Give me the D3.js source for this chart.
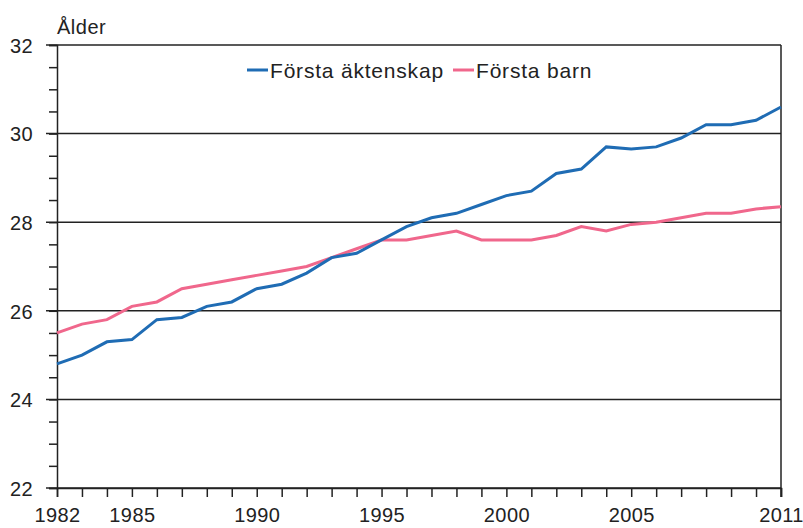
<!DOCTYPE html>
<html>
<head>
<meta charset="utf-8">
<script src="https://cdn.jsdelivr.net/npm/d3@7"></script>
<style>
  body { margin: 0; background: #fff; }
  svg { font-family: 'Liberation Sans', Arial, sans-serif; }
  .tick text { font-size: 20px; fill: #222; letter-spacing: 0.4px; }
</style>
</head>
<body>
<div class="chart"></div>
<script>
const width = 803;
const height = 528;

const years = d3.range(1982, 2012);
const marriage = [24.8, 25.0, 25.3, 25.35, 25.8, 25.85, 26.1, 26.2, 26.5, 26.6,
  26.85, 27.2, 27.3, 27.6, 27.9, 28.1, 28.2, 28.4, 28.6, 28.7,
  29.1, 29.2, 29.7, 29.65, 29.7, 29.9, 30.2, 30.2, 30.3, 30.6];
const child = [25.5, 25.7, 25.8, 26.1, 26.2, 26.5, 26.6, 26.7, 26.8, 26.9,
  27.0, 27.2, 27.4, 27.6, 27.6, 27.7, 27.8, 27.6, 27.6, 27.6,
  27.7, 27.9, 27.8, 27.95, 28.0, 28.1, 28.2, 28.2, 28.3, 28.35];
const yTicks = [22, 24, 26, 28, 30, 32];
const xLabels = [1982, 1985, 1990, 1995, 2000, 2005, 2011];

const color = {
  'marriage': '#1f6cb4',
  'child': '#f0678c',
  'grid': '#222',
};

const margin = { top: 45, right: 22, bottom: 40, left: 57 };

const x = d3.scaleLinear()
  .domain([1982, 2011])
  .range([margin.left, width - margin.right]);

const y = d3.scaleLinear()
  .domain([22, 32])
  .range([height - margin.bottom, margin.top]);

const svg = d3.select('.chart')
  .append('svg')
    .attr('width', width)
    .attr('height', height);

// gridlines with major tick stubs
svg.append('g')
  .selectAll('line')
  .data(yTicks)
  .enter().append('line')
    .attr('x1', margin.left - 11)
    .attr('x2', width - margin.right)
    .attr('y1', d => y(d))
    .attr('y2', d => y(d))
    .attr('stroke', color.grid)
    .attr('stroke-width', 1.5);

// right border
svg.append('line')
  .attr('x1', width - margin.right)
  .attr('x2', width - margin.right)
  .attr('y1', margin.top)
  .attr('y2', height - margin.bottom + 9)
  .attr('stroke', color.grid)
  .attr('stroke-width', 1.5);

const yAxis = svg.append('g')
  .attr('transform', `translate(${margin.left},0)`)
  .call(d3.axisLeft(y)
    .tickValues(d3.range(22, 32.01, 0.5))
    .tickSize(8)
    .tickPadding(16)
    .tickFormat(d => yTicks.includes(d) ? d : ''));

yAxis.select('.domain')
  .attr('stroke', color.grid)
  .attr('stroke-width', 1.5);
yAxis.selectAll('.tick line')
  .attr('stroke', color.grid)
  .attr('stroke-width', 1.5);
yAxis.selectAll('.tick text')
  .attr('x', -24)
  .attr('dy', '0.36em');

const xAxis = svg.append('g')
  .attr('transform', `translate(0,${height - margin.bottom})`)
  .call(d3.axisBottom(x)
    .tickValues(years)
    .tickSize(9)
    .tickPadding(11)
    .tickFormat(d => xLabels.includes(d) ? d : ''));

xAxis.select('.domain')
  .attr('stroke', color.grid)
  .attr('stroke-width', 1.5);
xAxis.selectAll('.tick line')
  .attr('stroke', color.grid)
  .attr('stroke-width', 1.5);

svg.append('text')
  .attr('x', margin.left)
  .attr('y', 34)
  .attr('font-size', 20)
  .attr('letter-spacing', 0.5)
  .attr('fill', '#222')
  .text('Ålder');

const line = d3.line()
  .x((d, i) => x(years[i]))
  .y(d => y(d));

svg.append('path')
  .datum(child)
  .attr('d', line)
  .attr('fill', 'none')
  .attr('stroke', color.child)
  .attr('stroke-width', 3);

svg.append('path')
  .datum(marriage)
  .attr('d', line)
  .attr('fill', 'none')
  .attr('stroke', color.marriage)
  .attr('stroke-width', 3);

// legend
const legendItems = [
  { label: 'Första äktenskap', key: 'marriage', x: 247 },
  { label: 'Första barn', key: 'child', x: 453 },
];

const legend = svg.append('g')
  .selectAll('g')
  .data(legendItems)
  .enter().append('g')
    .attr('transform', d => `translate(${d.x},70)`);

legend.append('line')
  .attr('x1', 0)
  .attr('x2', 21)
  .attr('stroke', d => color[d.key])
  .attr('stroke-width', 3);

legend.append('text')
  .attr('x', 23)
  .attr('y', 8)
  .attr('font-size', 21)
  .attr('letter-spacing', 0.8)
  .attr('fill', '#222')
  .text(d => d.label);
</script>
</body>
</html>
